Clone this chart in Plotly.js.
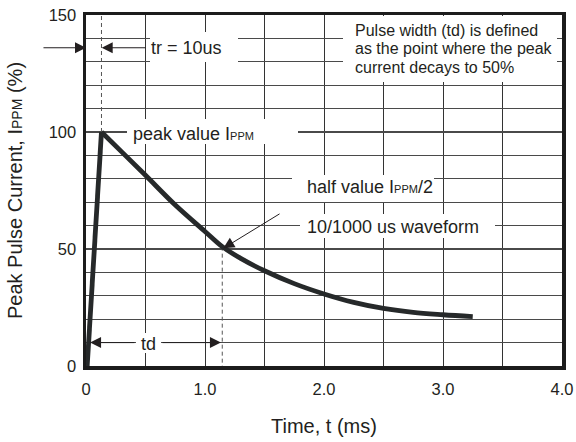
<!DOCTYPE html>
<html>
<head>
<meta charset="utf-8">
<script src="https://cdn.plot.ly/plotly-3.0.1.min.js"></script>
<style>html,body{margin:0;padding:0;background:#fff;}#chart{width:576px;height:442px;}</style>
</head>
<body>
<div id="chart"></div>
<script>
// ---- data ----
const riseTime = [0.01, 0.13];
const riseCurrent = [0, 100];
const decayTime = [0.13, 0.3, 0.5, 0.75, 1.0, 1.145, 1.3, 1.5, 1.75, 2.0, 2.25, 2.5, 2.75, 3.0, 3.25];
const decayCurrent = [100, 91.5, 81.5, 68.8, 57.5, 51, 46, 40.7, 35.2, 30.8, 27.2, 24.6, 22.9, 21.9, 21.1];
const trTime = [0.13, 0.13];
const trCurrent = [100, 150];
const tdTime = [1.145, 1.145];
const tdCurrent = [51, 0];
const xTickVals = [0, 0.5, 1, 1.5, 2, 2.5, 3, 3.5, 4];
const xTickText = ['0', '', '1.0', '', '2.0', '', '3.0', '', '4.0'];
const yTickVals = [0, 10, 20, 30, 40, 50, 60, 70, 80, 90, 100, 110, 120, 130, 140, 150];
const yTickText = ['0', '', '', '', '', '50', '', '', '', '', '100', '', '', '', '', '150'];

const FONT = 'Arial, "Liberation Sans", Helvetica, sans-serif';
const INK = '#231f20';
const SUB = s => '<span style="font-size:11px">' + s + '</span>';

const traces = [
  {x: trTime, y: trCurrent, mode: 'lines', line: {color: '#555', width: 1, dash: '4px,3px'}, hoverinfo: 'skip'},
  {x: tdTime, y: tdCurrent, mode: 'lines', line: {color: '#555', width: 1, dash: '4px,3px'}, hoverinfo: 'skip'},
  {x: riseTime, y: riseCurrent, mode: 'lines', line: {color: '#26292a', width: 4.8}, hoverinfo: 'skip'},
  {x: decayTime, y: decayCurrent, mode: 'lines', line: {color: '#26292a', width: 4.8, shape: 'spline', smoothing: 1}, hoverinfo: 'skip'}
];

function box(x, y, w, h) {
  return {x: x, y: y, xref: 'x', yref: 'y', text: ' ', showarrow: false, bgcolor: '#fff',
          width: w, height: h, borderpad: 0, borderwidth: 0, xanchor: 'center', yanchor: 'middle'};
}
function label(x, y, txt, size) {
  return {x: x, y: y, xref: 'x', yref: 'y', text: txt, showarrow: false, xanchor: 'left', yanchor: 'middle',
          font: {family: FONT, size: size, color: INK}};
}
function arrow(tx, ty, hx, hy) {
  return {x: hx, y: hy, ax: tx, ay: ty, xref: 'x', yref: 'y', axref: 'x', ayref: 'y', text: '',
          showarrow: true, arrowhead: 2, arrowsize: 2.2, arrowwidth: 1, arrowcolor: INK, standoff: 0, startstandoff: 0};
}

const annotations = [
  box(0.908, 136.3, 88, 30),
  box(1.063, 100.2, 171, 25),
  box(3.059, 135.5, 214, 66),
  box(2.33, 75.9, 142, 27),
  box(2.618, 59.8, 195, 24),
  box(0.524, 10, 25, 20),
  label(0.53, 136.0, 'tr = 10us', 18),
  label(0.38, 99.0, 'peak value I' + SUB('PPM'), 18),
  label(2.24, 143.4, 'Pulse width (td) is defined', 16),
  label(2.24, 135.5, 'as the point where the peak', 16),
  label(2.24, 127.6, 'current decays to 50%', 16),
  label(1.84, 76.5, 'half value I' + SUB('PPM') + '/2', 18),
  label(1.84, 59.5, '10/1000 us waveform', 18),
  {x: 0.525, y: 9.6, xref: 'x', yref: 'y', text: 'td', showarrow: false, xanchor: 'center', yanchor: 'middle',
   font: {family: FONT, size: 18, color: INK}},
  arrow(-0.37, 136, 0, 136),
  arrow(0.513, 136, 0.132, 136),
  arrow(0.42, 10, 0.034, 10),
  arrow(0.63, 10, 1.134, 10),
  arrow(1.639, 65.4, 1.154, 50.3)
];

const layout = {
  width: 576, height: 442,
  margin: {l: 86, r: 14, t: 15, b: 76, pad: 0},
  paper_bgcolor: '#fff', plot_bgcolor: '#fff',
  showlegend: false,
  font: {family: FONT, color: INK},
  xaxis: {
    range: [0, 4], tickvals: xTickVals, ticktext: xTickText,
    showgrid: true, gridcolor: '#333', gridwidth: 1, zeroline: false,
    showline: true, mirror: true, linecolor: '#1c1c1c', linewidth: 3.5,
    ticks: 'outside', ticklen: 6, tickcolor: 'rgba(0,0,0,0)',
    tickfont: {family: FONT, size: 16.5, color: INK},
    title: {text: 'Time, t (ms)', font: {family: FONT, size: 20, color: INK}, standoff: 22},
    fixedrange: true
  },
  yaxis: {
    range: [0, 150], tickvals: yTickVals, ticktext: yTickText,
    showgrid: true, gridcolor: '#4a4a4a', gridwidth: 1.3, zeroline: false,
    showline: true, mirror: true, linecolor: '#1c1c1c', linewidth: 3.5,
    ticks: 'outside', ticklen: 3, tickcolor: 'rgba(0,0,0,0)',
    tickfont: {family: FONT, size: 16.5, color: INK},
    title: {text: 'Peak Pulse Current, I' + '<span style="font-size:14px">PPM</span>' + ' (%)', font: {family: FONT, size: 20, color: INK}, standoff: 21},
    fixedrange: true
  },
  annotations: annotations
};

Plotly.newPlot('chart', traces, layout, {staticPlot: true, displayModeBar: false});
</script>
</body>
</html>
